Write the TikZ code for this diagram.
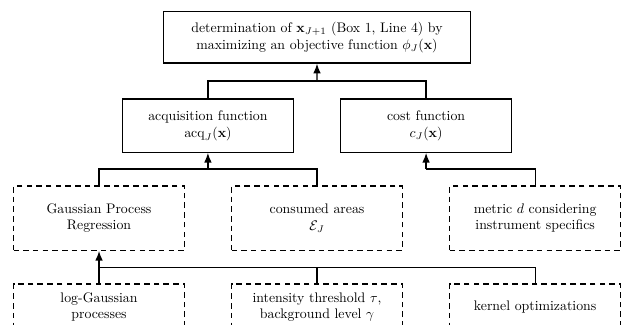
\documentclass[tikz,border=0pt]{standalone}
\usepackage{amsmath,amssymb}
\usetikzlibrary{arrows.meta,calc}

\tikzset{
  box/.style={draw,line width=.95pt,align=center,minimum width=4.34cm,minimum height=1.35cm,inner sep=2pt},
  dbox/.style={box,dash pattern=on 4pt off 3pt,minimum height=1.63cm},
  link/.style={line width=.95pt},
  up/.style={line width=.95pt,-{Latex[length=7pt,width=5.5pt]}},
}

\begin{document}
\begin{tikzpicture}
  \useasboundingbox (0,0) rectangle (15.77,-8.23);
  \node[box,minimum width=7.8cm,minimum height=1.3cm] (obj) at (8.05,-.95)
    {determination of $\mathbf{x}_{J+1}$ (Box 1, Line 4) by\\maximizing an objective function $\phi_J(\mathbf{x})$};
  \node[box] (acq) at (5.28,-3.19) {acquisition function\\$\mathrm{acq}_J(\mathbf{x})$};
  \node[box] (cost) at (10.82,-3.19) {cost function\\$c_J(\mathbf{x})$};
  \node[dbox] (gpr) at (2.515,-5.54) {Gaussian Process\\Regression};
  \node[dbox] (areas) at (8.05,-5.54) {consumed areas\\$\mathcal{E}_J$};
  \node[dbox] (metric) at (13.59,-5.54) {metric $d$ considering\\instrument specifics};
  \node[dbox,minimum height=1.17cm] (lgp) at (2.515,-7.80) {log-Gaussian\\processes};
  \node[dbox,minimum height=1.17cm] (thr) at (8.05,-7.80) {intensity threshold $\tau$,\\background level $\gamma$};
  \node[dbox,minimum height=1.17cm] (kern) at (13.59,-7.80) {kernel optimizations};

  \coordinate (j1) at ($(obj.south)!.5!(obj.south|-acq.north)$);
  \coordinate (j2) at ($(acq.south)!.5!(acq.south|-gpr.north)$);
  \coordinate (j3) at ($(cost.south)!.5!(cost.south|-metric.north)$);
  \coordinate (j4) at ($(gpr.south)!.5!(lgp.north)$);

  \draw[link] (acq.north) |- (j1) -| (cost.north);
  \draw[up] (j1) -- (obj.south);
  \draw[link] (gpr.north) |- (j2) -| (areas.north);
  \draw[up] (j2) -- (acq.south);
  \draw[link] (j3) -| (metric.north);
  \draw[up] (j3) -- (cost.south);
  \draw[link] (j4) -| (kern.north);
  \draw[link] (thr.north) -- (thr.north|-j4);
  \draw[up] (lgp.north) -- (gpr.south);
\end{tikzpicture}
\end{document}
